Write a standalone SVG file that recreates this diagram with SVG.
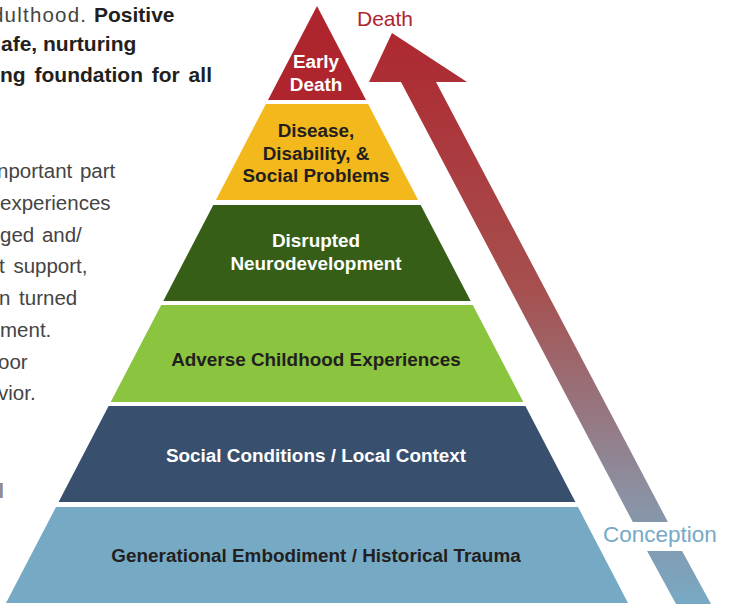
<svg xmlns="http://www.w3.org/2000/svg" width="733" height="604" viewBox="0 0 733 604">
<style>
.lbl{font-family:"Liberation Sans",Arial,sans-serif;font-size:18.9px;font-weight:bold;text-anchor:middle}
.w{fill:#ffffff}
.d{fill:#231f20}
.body{font-family:"Liberation Sans",Arial,sans-serif;font-size:20.5px;fill:#444444}
.bold{font-family:"Liberation Sans",Arial,sans-serif;font-size:21px;font-weight:bold;fill:#231f20}
</style>
<defs>
<linearGradient id="arrowGrad" gradientUnits="userSpaceOnUse" x1="0" y1="33" x2="0" y2="604">
<stop offset="0" stop-color="#ae2830"/>
<stop offset="0.45" stop-color="#a6504f"/>
<stop offset="0.8" stop-color="#8c8fa0"/>
<stop offset="1" stop-color="#78a9c4"/>
</linearGradient>
</defs>
<rect width="733" height="604" fill="#ffffff"/>

<g id="side-text">
<text class="body" x="-8" y="22" textLength="94" lengthAdjust="spacing">dulthood.</text>
<text class="bold" x="94" y="22">Positive</text>
<text class="bold" x="1" y="51">afe, nurturing</text>
<text class="bold" x="0" y="82" word-spacing="3">ng foundation for all</text>
<text class="body" x="-3" y="178" word-spacing="2">nportant part</text>
<text class="body" x="0" y="210">experiences</text>
<text class="body" x="0" y="242" word-spacing="2">ged and/</text>
<text class="body" x="-1" y="273" word-spacing="3">t support,</text>
<text class="body" x="-1" y="305" word-spacing="3">n turned</text>
<text class="body" x="0" y="337">ment.</text>
<text class="body" x="-2" y="369">oor</text>
<text class="body" x="-2" y="400">vior.</text>
<text x="-1.5" y="498" font-family="Liberation Sans,Arial,sans-serif" font-size="20" font-weight="bold" fill="#8a8a8a">l</text>
</g>

<g id="connectors">
<polygon fill="url(#arrowGrad)" points="392,33 467,82 436,82 667.9,522 632.8,522 401,82 369,82"/>
<polygon fill="url(#arrowGrad)" points="647.1,551 682.1,551 711,604 676,604"/>
</g>

<g id="early-death">
<polygon fill="#af252e" points="317,6 366,100 268,100"/>
<text class="lbl w" x="316" y="68">Early</text>
<text class="lbl w" x="316" y="91">Death</text>
</g>

<g id="disease">
<polygon fill="#f3b81b" points="265.9,104 368.1,104 418.1,200 215.9,200"/>
<text class="lbl d" x="316" y="137">Disease,</text>
<text class="lbl d" x="316" y="160">Disability, &amp;</text>
<text class="lbl d" x="316" y="182">Social Problems</text>
</g>

<g id="neuro">
<polygon fill="#365e17" points="213.3,205 420.7,205 470.7,301 163.3,301"/>
<text class="lbl w" x="316" y="247">Disrupted</text>
<text class="lbl w" x="316" y="270">Neurodevelopment</text>
</g>

<g id="ace">
<polygon fill="#8bc43e" points="161.2,305 472.8,305 523.3,402 110.7,402"/>
<text class="lbl d" x="316" y="366">Adverse Childhood Experiences</text>
</g>

<g id="social">
<polygon fill="#38506e" points="108.6,406 525.4,406 575.4,502 58.6,502"/>
<text class="lbl w" x="316" y="462">Social Conditions / Local Context</text>
</g>

<g id="generational">
<polygon fill="#76aac4" points="56,507 578,507 628,603 6,603"/>
<text class="lbl d" x="316" y="562">Generational Embodiment / Historical Trauma</text>
</g>

<g id="arrow-labels">
<text x="357" y="26" font-family="Liberation Sans,Arial,sans-serif" font-size="21" fill="#af252e">Death</text>
<text x="603" y="542" font-family="Liberation Sans,Arial,sans-serif" font-size="22.5" fill="#77a9c6">Conception</text>
</g>
</svg>
